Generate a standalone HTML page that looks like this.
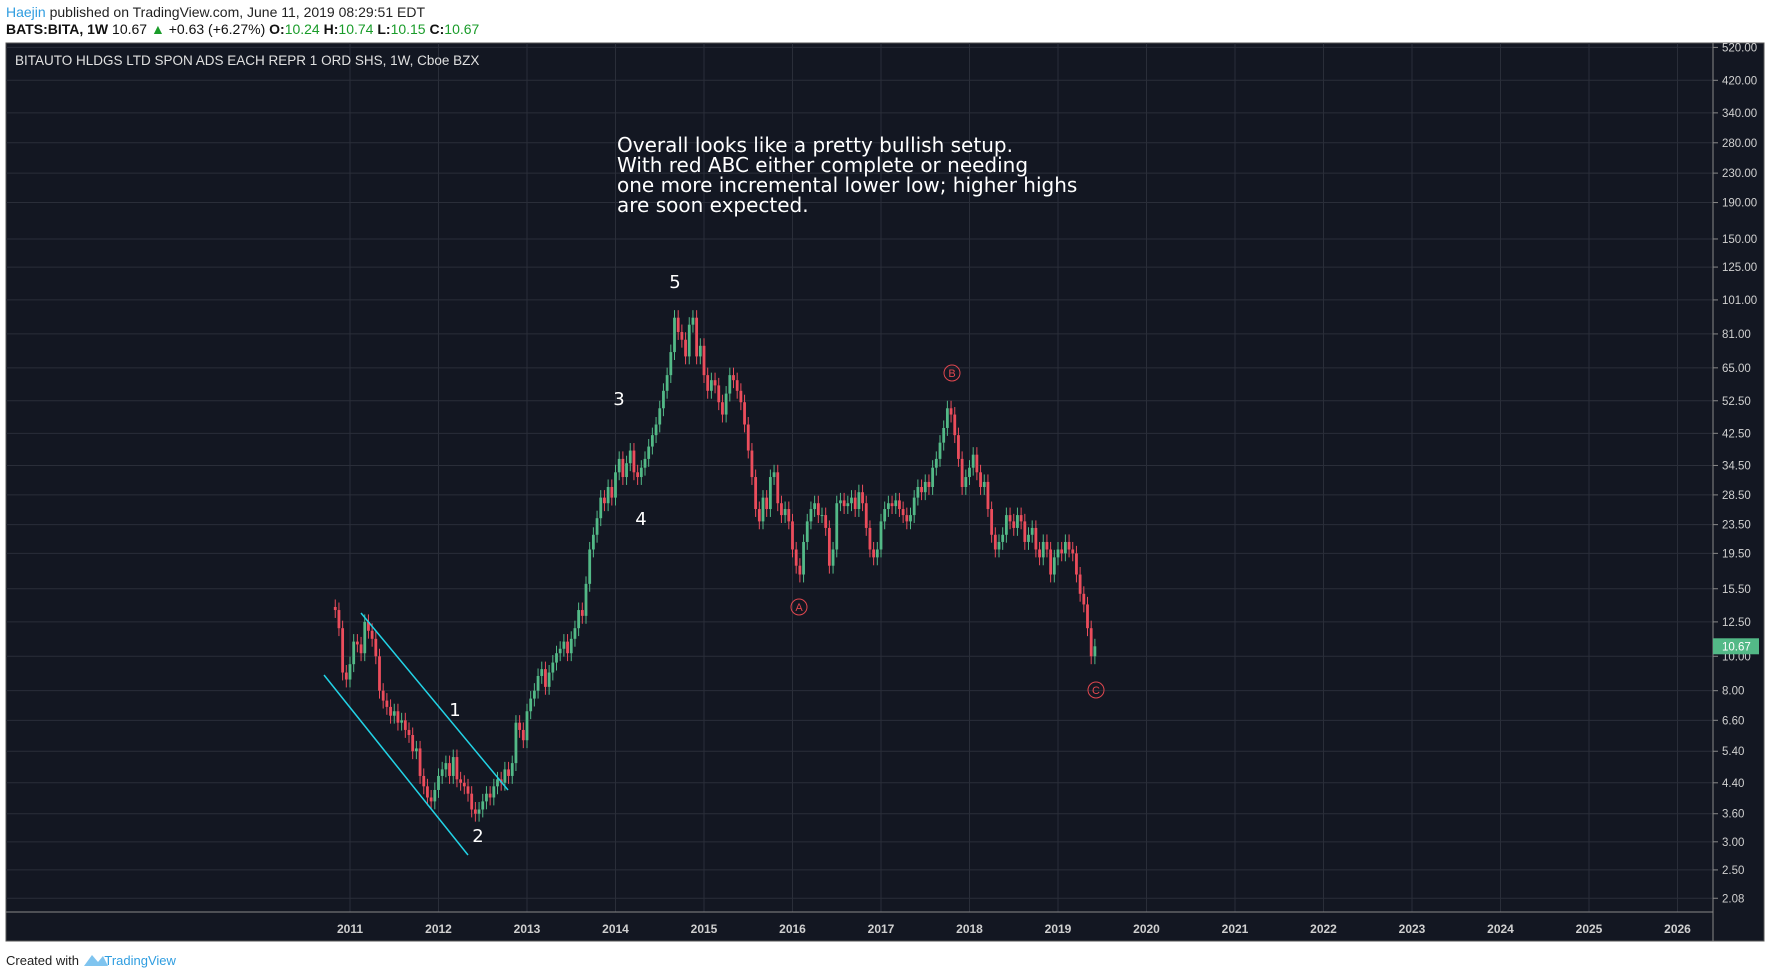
<!DOCTYPE html>
<html><head><meta charset="utf-8"><style>
body{margin:0;background:#fff;width:1770px;height:978px;overflow:hidden;font-family:"Liberation Sans",sans-serif}
svg{position:absolute;left:0;top:0}
</style></head><body>
<svg id="s" width="1770" height="978" xmlns="http://www.w3.org/2000/svg">
<text x="6" y="17" font-size="14" fill="#222"><tspan fill="#2f9de0">Haejin</tspan> published on TradingView.com, June 11, 2019 08:29:51 EDT</text>
<text x="6" y="34" font-size="14" fill="#111"><tspan font-weight="bold">BATS:BITA, 1W</tspan>  10.67 <tspan fill="#1a9c2a">▲</tspan> +0.63 (+6.27%) <tspan font-weight="bold">O:</tspan><tspan fill="#1a9c2a">10.24</tspan> <tspan font-weight="bold">H:</tspan><tspan fill="#1a9c2a">10.74</tspan> <tspan font-weight="bold">L:</tspan><tspan fill="#1a9c2a">10.15</tspan> <tspan font-weight="bold">C:</tspan><tspan fill="#1a9c2a">10.67</tspan></text>
<rect x="6" y="43" width="1758" height="898" fill="#131722" stroke="#555"/>
<g id="grid"></g>
<line x1="1713" y1="43" x2="1713" y2="941" stroke="#888"/>
<line x1="6" y1="912" x2="1713" y2="912" stroke="#888"/>
<text x="15" y="65" font-size="13.5" fill="#e0e0e0">BITAUTO HLDGS LTD SPON ADS EACH REPR 1 ORD SHS, 1W, Cboe BZX</text>
<g id="candles"></g>
<line x1="361" y1="613" x2="508" y2="790" stroke="#22d3e6" stroke-width="1.5"/>
<line x1="324" y1="675" x2="468" y2="855" stroke="#22d3e6" stroke-width="1.5"/>
<g font-family="DejaVu Sans,sans-serif" font-size="20" fill="#fff">
<text x="617" y="152">Overall looks like a pretty bullish setup.</text>
<text x="617" y="172">With red ABC either complete or needing</text>
<text x="617" y="192">one more incremental lower low; higher highs</text>
<text x="617" y="212">are soon expected.</text></g>
<g font-family="DejaVu Sans,sans-serif" font-size="18" fill="#fff" text-anchor="middle">
<text x="675" y="288">5</text>
<text x="619" y="405">3</text>
<text x="641" y="525">4</text>
<text x="455" y="716">1</text>
<text x="478" y="842">2</text></g>
<g fill="none" stroke="#e0474f" font-size="11" text-anchor="middle">
<g><circle cx="799" cy="607" r="8"/><text x="799" y="611" fill="#e0474f" stroke="none">A</text></g>
<g><circle cx="952" cy="373" r="8"/><text x="952" y="377" fill="#e0474f" stroke="none">B</text></g>
<g><circle cx="1096" cy="690" r="8"/><text x="1096" y="694" fill="#e0474f" stroke="none">C</text></g></g>
<g id="axes"></g>
<text x="6" y="965" font-size="13" fill="#222">Created with <tspan fill="#2f9de0" dx="22">TradingView</tspan></text>
<path d="M84 966 L92 955 L98 962 L103 956 L108 966 Z" fill="#7fc4ef"/>
</svg>
<script>
const priceTicks=[520,420,340,280,230,190,150,125,101,81,65,52.5,42.5,34.5,28.5,23.5,19.5,15.5,12.5,10,8,6.6,5.4,4.4,3.6,3.0,2.5,2.08];
const yearTicks=[2011,2012,2013,2014,2015,2016,2017,2018,2019,2020,2021,2022,2023,2024,2025,2026];
const startYear=2010+10/12;
const closes=[13.5,12.0,9.0,8.6,
9.5,11.0,10.8,10.2,12.5,11.8,11.2,10.0,8.0,7.5,7.2,6.8,7.0,6.5,6.6,6.2,6.0,5.4,5.5,4.6,4.3,4.0,3.9,4.2,
4.6,4.8,5.0,4.6,5.2,4.5,4.4,4.3,4.1,3.7,3.6,3.7,3.9,4.1,4.0,4.3,4.5,4.4,4.8,4.6,5.0,6.5,6.2,5.8,
7.0,7.6,8.0,8.8,9.2,8.2,9.0,9.6,10.2,10.5,11.0,10.2,11.2,12.0,13.5,13.0,16.0,20.0,22.0,24.5,28.0,27.0,30.0,28.0,
33.0,36.0,32.0,35.0,38.0,33.0,32.0,34.0,36.0,39.0,42.0,45.0,50.0,56.0,62.0,72.0,90.0,82.0,78.0,70.0,86.0,90.0,70.0,75.0,
62.0,56.0,60.0,58.0,52.0,48.0,55.0,62.0,60.0,56.0,52.0,45.0,38.0,32.0,26.0,24.0,28.0,26.0,32.0,33.0,27.0,25.0,26.0,24.0,
20.0,18.0,17.0,21.0,24.0,26.0,27.0,25.0,25.0,23.0,18.0,20.0,27.0,27.5,26.5,27.0,28.0,26.0,29.0,27.0,23.0,20.0,19.0,20.0,
24.0,26.0,27.0,26.5,27.5,26.0,25.0,24.0,25.0,28.0,30.0,29.0,31.0,30.0,34.0,36.0,40.0,44.0,50.0,48.0,42.0,36.0,30.0,32.0,
34.0,37.0,33.0,30.0,31.0,26.0,22.0,20.0,21.0,22.0,25.0,24.0,23.0,25.0,24.0,21.0,22.0,23.0,20.0,19.0,21.0,20.0,17.0,19.0,
20.0,19.5,21.0,20.0,19.5,17.0,15.0,14.0,12.0,10.0,10.67];
const NS="http://www.w3.org/2000/svg";
function yS(p){return 47.4+Math.log(520/p)*154.1;}
function xS(t){return 350+(t-2011)*88.5;}
function mk(tag,at,par){const e=document.createElementNS(NS,tag);for(const k in at)e.setAttribute(k,at[k]);par.appendChild(e);return e;}
const grid=document.getElementById('grid'),axes=document.getElementById('axes'),cg=document.getElementById('candles');
priceTicks.forEach(v=>{const y=yS(v);
 const l=mk('line',{x1:6,x2:1713,y1:y,y2:y,stroke:'#2a2e39'},grid);
 
 
 const tk=mk('line',{x1:1713,x2:1718,y1:y,y2:y,stroke:'#888'},axes);
 
 
 const t=mk('text',{x:1722,y:y+4,'font-size':11.5,fill:'#d0d0d0'},axes);t.textContent=v.toFixed(2);
 
 });
yearTicks.forEach(yr=>{const x=xS(yr);
 const l=mk('line',{x1:x,x2:x,y1:43,y2:912,stroke:'#2a2e39'},grid);
 
 
 const t=mk('text',{x:x,y:933,'font-size':12,'font-weight':'bold',fill:'#d0d0d0','text-anchor':'middle'},axes);t.textContent=yr;
 
 });
closes.forEach((c,i)=>{const o=i?closes[i-1]:c*1.02;const x=xS(startYear+i/24);
 const up=c>=o,col=up?'#53b987':'#eb4d5c';
 const hi=Math.max(o,c)*1.05,lo=Math.min(o,c)*0.95;
 const g=mk('g',{},cg);
 
 
 mk('line',{x1:x,x2:x,y1:yS(hi),y2:yS(lo),stroke:col,'stroke-width':1},g);
 const y1=yS(Math.max(o,c)),y2=yS(Math.min(o,c));
 mk('rect',{x:x-1.4,y:y1,width:2.8,height:Math.max(1,y2-y1),fill:col},g);});
const last=closes[closes.length-1],ly=yS(last);
const pb=mk('rect',{x:1713,y:ly-8,width:46,height:16,fill:'#53b987'},axes);


const pt=mk('text',{x:1722,y:ly+4,'font-size':11.5,fill:'#fff'},axes);pt.textContent=last.toFixed(2);


</script>
</body></html>
